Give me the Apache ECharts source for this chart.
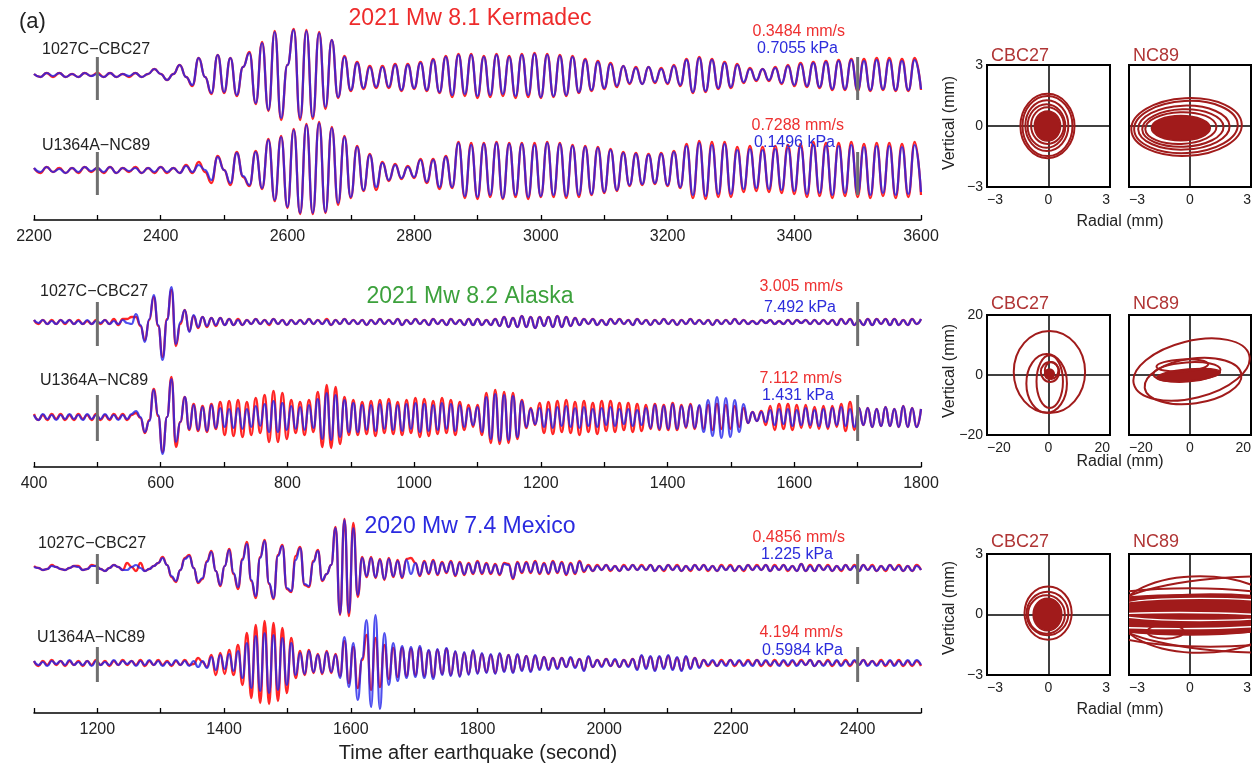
<!DOCTYPE html>
<html>
<head>
<meta charset="utf-8">
<script src="https://cdn.jsdelivr.net/npm/echarts/dist/echarts.min.js"></script>
<style>
html, body { margin: 0; padding: 0; background: #ffffff; }
#chart { width: 1258px; height: 768px; }
</style>
</head>
<body>
<div id="chart"></div>
<script>
// ---------------------------------------------------------------------------
// Sampled seismogram traces (scaled amplitude), red = velocity, blue = pressure.
// Each trace is sampled on a regular time grid: start + index * step (seconds).
// ---------------------------------------------------------------------------

// 2021 Mw 8.1 Kermadec, 2200-3600 s, 10 s sampling
const kermadecStart = 2200;
const kermadecStep = 10;
const kermadecMarkers = [2300, 3500];

const kermadecCbcBlue = [
  1,-2,2,-1,2,-2,1,-2,2,-1,
  1,-2,2,-2,1,-1,2,-2,1,6,
  1,-5,1,10,-2,-10,17,-2,-18,20,
  -17,17,-20,8,22,-28,32,-35,43,-43,
  10,45,-43,44,-42,42,-32,35,-22,18,
  -15,12,-13,8,-12,8,-12,10,-15,10,
  -13,12,-15,15,-17,18,-20,20,-19,20,
  -21,18,-20,20,-19,18,-21,20,-20,21,
  -22,20,-21,19,-20,18,-17,15,-15,13,
  -13,11,-11,9,-8,7,-9,8,-7,6,
  -8,9,-10,15,-17,17,-16,15,-13,12,
  -12,10,-7,6,-5,6,-5,7,-8,9,
  -10,11,-11,12,-12,13,-14,14,-14,15,
  -15,14,-15,15,-14,15,-15,14,-15,15,-14
];
const kermadecCbcRed = [
  1,-2,2,-2,2,-2,1,-2,2,-1,
  2,-2,2,-2,1,-2,2,-2,1,6,
  1,-5,1,10,-2,-11,17,-2,-19,20,
  -18,17,-21,8,23,-29,33,-36,44,-45,
  10,46,-45,45,-44,43,-34,35,-23,19,
  -16,13,-14,9,-13,9,-13,11,-16,11,
  -14,13,-16,16,-18,19,-22,21,-21,21,
  -23,19,-22,21,-21,19,-23,21,-22,22,
  -23,21,-22,20,-21,19,-18,16,-16,14,
  -14,12,-12,9,-9,8,-9,8,-8,7,
  -9,10,-11,16,-18,18,-17,16,-14,13,
  -13,11,-8,7,-6,6,-6,8,-9,10,
  -11,12,-12,13,-13,14,-15,15,-15,16,
  -16,16,-16,17,-15,17,-16,16,-16,17,-15
];
const kermadecNcBlue = [
  2,-2,3,-2,1,-3,2,-2,3,-1,
  2,-2,3,-3,2,-1,2,-3,2,-2,
  3,-2,2,-3,4,-2,5,0,-10,13,
  0,-13,17,-6,-15,18,-18,30,-30,33,
  -37,40,-43,45,-43,47,-42,42,-33,33,
  -27,23,-20,15,-17,7,-10,5,-8,3,
  -7,10,-12,10,-17,13,-17,27,-26,25,
  -27,26,-25,27,-28,26,-25,26,-27,25,
  -26,27,-25,26,-26,24,-25,23,-24,22,
  -22,20,-20,17,-15,16,-14,15,-13,16,
  -15,18,-17,24,-25,27,-26,25,-24,26,
  -24,20,-19,21,-18,20,-19,21,-20,22,
  -21,23,-24,25,-23,24,-25,24,-23,25,
  -24,23,-25,24,-23,24,-25,23,-24,25,-22
];
const kermadecNcRed = [
  2,-3,3,-2,2,-3,2,-3,3,-2,
  2,-3,3,-3,2,-2,3,-3,2,-3,
  3,-3,2,-3,5,-3,8,-2,-13,14,
  0,-15,18,-7,-16,19,-19,31,-31,34,
  -38,41,-44,46,-44,48,-43,43,-35,34,
  -28,24,-21,16,-20,8,-11,6,-9,4,
  -8,11,-13,11,-19,14,-18,28,-28,27,
  -29,27,-27,28,-29,27,-27,27,-29,27,
  -27,28,-27,27,-28,25,-27,24,-25,23,
  -23,21,-21,18,-16,17,-15,16,-14,17,
  -16,19,-18,26,-28,29,-29,28,-27,28,
  -27,23,-22,24,-21,23,-22,24,-23,25,
  -24,26,-27,28,-26,27,-28,27,-26,28,
  -27,26,-28,27,-26,27,-28,26,-27,28,-25
];

// 2021 Mw 8.2 Alaska, 400-1800 s, 7 s sampling
const alaskaStart = 400;
const alaskaStep = 7;
const alaskaMarkers = [500, 1700];

const alaskaCbcBlue = [
  2,-1,2,-2,1,-2,2,-1,2,-2,
  1,-2,2,-2,1,-1,2,-2,1,-2,
  2,-1,-2,8,-3,-20,3,27,-3,-38,
  2,35,-22,0,12,-10,7,-5,5,-4,
  4,-3,4,-3,3,-3,2,-3,2,-2,
  3,-2,2,-2,3,-2,2,-3,2,-2,
  2,-2,3,-2,2,-2,2,-3,2,-2,
  3,-2,2,-2,2,-3,2,-2,3,-2,
  2,-2,3,-3,2,-2,3,-2,2,-3,
  3,-2,2,-3,3,-2,2,-3,3,-3,
  3,-3,2,-3,3,-4,5,-5,4,-5,
  6,-5,5,-6,5,-4,5,-5,6,-5,
  5,-4,4,-3,3,-2,3,-3,2,-3,
  3,-2,3,-2,2,-3,3,-2,2,-3,
  2,-2,3,-2,2,-3,2,-2,3,-2,
  2,-2,2,-3,2,-2,2,-2,3,-2,
  2,-2,1,-2,2,-1,2,-2,1,-2,
  2,-2,2,-1,2,-2,2,-2,2,-2,
  2,-3,3,-2,3,-3,2,-3,3,-3,
  3,-2,3,-3,3,-3,2,-3,3,-2,
  3
];
const alaskaCbcRed = [
  2,-2,2,-2,2,-2,2,-2,2,-2,
  2,-2,1,-2,2,-2,2,-2,3,-3,
  3,3,5,5,-4,-18,2,25,-4,-35,
  3,32,-24,-2,12,-9,6,-6,5,-5,
  4,-4,4,-3,3,-3,3,-3,2,-2,
  3,-2,2,-3,3,-2,2,-3,2,-2,
  2,-2,3,-2,2,-2,3,-3,2,-2,
  3,-2,2,-2,2,-3,2,-2,3,-2,
  2,-2,3,-3,2,-2,3,-2,2,-3,
  3,-2,2,-3,3,-2,2,-3,3,-3,
  3,-3,2,-3,3,-4,5,-5,4,-5,
  6,-5,5,-6,5,-4,5,-5,6,-5,
  5,-4,4,-3,3,-2,3,-3,2,-3,
  3,-2,3,-2,2,-3,3,-2,2,-3,
  2,-2,3,-2,2,-3,2,-2,3,-2,
  2,-2,2,-3,2,-2,2,-2,3,-2,
  2,-2,1,-2,2,-1,2,-2,1,-2,
  2,-2,2,-1,2,-2,2,-2,2,-2,
  2,-3,3,-2,3,-3,2,-3,3,-3,
  3,-2,3,-3,3,-3,2,-3,3,-2,
  3
];
const alaskaNcBlue = [
  2,-3,3,-2,2,-3,2,-2,3,-2,
  2,-3,3,-2,2,-2,3,-2,2,-3,
  2,-2,3,6,0,-15,-4,27,2,-37,
  0,38,-25,-5,20,-12,12,-13,10,-14,
  12,-11,9,-10,8,-11,9,-12,8,-10,
  11,-9,13,-15,16,-15,14,-13,11,-12,
  10,-13,12,-11,18,-22,24,-23,22,-20,
  17,-15,14,-15,12,-13,12,-14,13,-12,
  14,-13,12,-14,13,-12,14,-15,13,-14,
  12,-13,14,-12,13,-14,12,-10,9,-8,
  10,-15,20,-22,23,-24,22,-23,21,-20,
  16,-10,8,-7,9,-10,8,-11,10,-9,
  11,-10,9,-11,10,-9,8,-10,9,-8,
  10,-9,8,-7,8,-9,7,-8,9,-11,
  12,-12,11,-12,13,-12,11,-10,12,-11,
  12,-15,17,-19,20,-21,19,-20,17,-15,
  13,-6,5,-4,5,-5,7,-8,8,-7,
  8,-9,7,-8,9,-8,7,-9,8,-10,
  9,-8,10,-9,8,-10,9,-8,9,-10,
  8,-9,10,-9,8,-10,11,-10,9,-10,
  8
];
const alaskaNcRed = [
  3,-3,2,-3,3,-2,3,-3,2,-3,
  3,-2,2,-3,3,-3,2,-3,3,-2,
  3,-3,2,4,-1,-16,-3,28,1,-35,
  0,40,-30,-5,20,-13,13,-14,11,-15,
  13,-12,15,-18,16,-19,17,-20,15,-18,
  19,-16,22,-25,26,-25,24,-22,17,-16,
  15,-18,17,-15,25,-30,32,-31,30,-27,
  20,-18,17,-18,15,-17,16,-19,17,-16,
  18,-17,15,-18,17,-16,19,-20,18,-19,
  16,-17,19,-16,17,-18,15,-13,12,-10,
  12,-18,24,-26,27,-27,25,-26,24,-22,
  17,-11,9,-8,14,-16,15,-17,16,-15,
  17,-16,15,-18,16,-15,14,-17,16,-14,
  16,-15,14,-13,14,-15,13,-14,12,-12,
  13,-13,12,-13,14,-13,12,-11,13,-12,
  11,-12,12,-13,13,-12,12,-12,11,-10,
  9,-6,5,-4,6,-8,11,-13,13,-12,
  13,-13,12,-11,12,-11,10,-12,11,-12,
  11,-10,13,-14,15,-13,9,-8,9,-10,
  8,-9,10,-9,8,-10,11,-10,9,-10,
  8
];

// 2020 Mw 7.4 Mexico, 1100-2500 s, 7 s sampling
const mexicoStart = 1100;
const mexicoStep = 7;
const mexicoMarkers = [1200, 2400];

const mexicoCbcBlue = [
  1,0,-2,-1,2,1,-1,-2,0,2,
  1,-2,-1,2,2,-1,-3,0,3,1,
  -2,-2,1,3,0,-3,-1,2,5,10,
  3,-8,-13,-2,9,12,0,-14,-10,6,
  16,-3,-17,2,18,-5,-19,8,24,-12,
  -28,10,27,-15,-30,12,22,-20,-23,8,
  20,-16,-18,6,17,-12,-6,3,40,-46,
  48,-45,40,-27,10,-8,10,-9,8,-11,
  9,-8,7,-9,8,-6,5,-7,6,-5,
  7,-6,5,-4,6,-7,5,-6,4,-5,
  6,-5,4,-5,3,-6,4,3,-10,5,
  -4,5,-4,6,-5,4,-5,6,-4,5,
  -6,4,-5,6,-3,2,-3,2,-2,3,
  -2,2,-3,2,-2,3,-2,2,-2,3,
  -3,2,-2,3,-2,2,-3,2,-2,3,
  -2,3,-2,2,-3,2,-2,2,-3,2,
  -2,3,-2,2,-2,3,-3,2,-2,3,
  -2,2,-3,4,-3,2,-3,3,-2,2,
  -3,2,-2,3,-2,2,-3,3,-2,2,
  -3,2,-2,3,-2,2,-3,2,-3,2,
  -2
];
const mexicoCbcRed = [
  2,0,-2,-1,3,1,-1,-2,0,2,
  2,-2,-1,3,2,-1,-3,0,3,1,
  -2,5,1,-3,5,-3,-1,2,5,11,
  3,-9,-14,-2,10,13,0,-15,-11,7,
  17,-3,-18,2,19,-6,-21,9,26,-13,
  -30,11,28,-16,-31,13,23,-21,-24,12,
  21,-17,-19,7,18,-13,-6,3,41,-47,
  49,-48,45,-29,11,-9,11,-10,9,-12,
  10,-9,8,-10,9,10,5,-8,7,-6,
  8,-7,6,-5,7,-8,6,-7,5,-6,
  7,-6,5,-6,4,-7,5,4,-11,6,
  -5,6,-5,7,-6,5,-6,7,-5,6,
  -7,5,-6,7,-4,3,-3,3,-2,3,
  -3,2,-3,3,-2,3,-2,3,-2,3,
  -3,2,-3,3,-2,3,-3,2,-3,3,
  -2,3,-3,2,-3,3,-2,3,-3,2,
  -3,3,-2,3,-2,3,-3,3,-2,3,
  -3,2,-3,4,-3,3,-3,3,-2,3,
  -3,2,-3,3,-2,3,-3,3,-2,3,
  -3,2,-3,3,-2,3,-3,2,-3,3,
  -2
];
const mexicoNcBlue = [
  2,-2,1,-3,2,-1,2,-2,3,-2,
  1,-2,2,-3,2,-2,1,-2,3,-2,
  2,-1,2,-3,2,-2,3,-2,2,-3,
  1,-2,3,-2,2,-3,2,-4,2,-5,
  6,-7,8,-6,9,-8,12,-15,20,-25,
  27,-28,30,-30,28,-27,25,-22,20,-12,
  10,-11,12,-9,8,-10,11,-9,8,-15,
  26,-24,20,-37,5,43,-44,48,-46,30,
  -22,20,-18,17,-15,16,-14,17,-15,13,
  -16,14,-12,15,-13,12,-14,11,-12,13,
  -11,10,-10,9,-11,10,-9,8,-10,9,
  -8,7,-9,8,-7,6,-7,5,-6,5,
  -4,6,-5,4,-8,7,-4,3,-4,4,
  -3,4,-4,3,-4,4,-7,8,-6,7,
  -8,7,-6,8,-7,6,-8,7,-6,5,
  -5,3,-2,3,-3,2,-3,3,-2,3,
  -3,2,-3,3,-2,3,-2,2,-3,3,
  -2,3,-3,2,-2,3,-3,2,-3,2,
  -2,3,-3,2,-2,3,-2,3,-3,2,
  -3,2,-2,3,-3,2,-2,3,-2,3,
  -2
];
const mexicoNcRed = [
  2,-3,2,-2,3,-2,2,-3,2,-2,
  2,-3,2,-2,3,-2,2,-3,2,-2,
  3,-2,2,-2,3,-3,2,-2,3,-2,
  2,-3,2,-2,3,-2,-1,5,1,-4,
  8,-12,10,-11,13,-12,18,-22,30,-35,
  38,-40,42,-41,40,-38,35,-30,25,-15,
  12,-12,13,-10,9,-11,12,-10,9,-13,
  22,-20,16,-25,3,28,-27,25,-24,18,
  -16,15,-14,15,-13,14,-12,15,-13,12,
  -14,13,-11,14,-12,11,-13,10,-11,12,
  -10,9,-9,8,-10,9,-8,8,-9,8,
  -7,7,-8,7,-6,6,-6,5,-5,5,
  -4,5,-4,4,-7,6,-4,3,-3,4,
  -3,3,-4,3,-3,4,-6,7,-5,6,
  -7,6,-5,7,-6,5,-7,6,-5,5,
  -4,3,-3,2,-3,3,-2,3,-3,2,
  -2,3,-2,3,-3,2,-3,3,-2,2,
  -3,2,-2,3,-2,3,-3,2,-2,3,
  -3,2,-2,3,-3,2,-2,3,-2,2,
  -2,3,-3,2,-2,3,-3,2,-3,2,
  -3
];

// Text content
const eventTitles = ['2021 Mw 8.1 Kermadec', '2021 Mw 8.2 Alaska', '2020 Mw 7.4 Mexico'];
const stationPairs = ['1027C\u2212CBC27', 'U1364A\u2212NC89'];
const peakVelocity = [['0.3484 mm/s', '0.7288 mm/s'], ['3.005 mm/s', '7.112 mm/s'], ['0.4856 mm/s', '4.194 mm/s']];
const peakPressure = [['0.7055 kPa', '0.1496 kPa'], ['7.492 kPa', '1.431 kPa'], ['1.225 kPa', '0.5984 kPa']];
const particleStations = ['CBC27', 'NC89'];

// Particle motion loops, [radial centre, vertical centre, radial half-width, vertical half-height, tilt deg] (mm)
const kermadecCbcLoops = [[-0.05, 0.0, 1.32, 1.58, 0], [-0.05, 0.0, 1.22, 1.48, 0], [-0.08, 0.02, 1.05, 1.25, 0], [-0.1, 0.0, 0.92, 1.07, 0], [-0.05, 0.02, 0.8, 0.9, 0]];
const kermadecCbcCore = [[-0.05, 0.0, 0.64, 0.74, 0]];
const kermadecNcLoops = [[-0.17, -0.05, 2.72, 1.42, 3], [-0.2, -0.05, 2.55, 1.28, 3], [-0.3, -0.08, 2.25, 1.08, 2], [-0.35, -0.1, 2.0, 0.92, 2], [-0.45, -0.1, 1.75, 0.78, 2]];
const kermadecNcCore = [[-0.45, -0.1, 1.45, 0.62, 0]];
const alaskaCbcLoops = [[0.3, 1.0, 11.6, 13.7, 0], [-0.6, -2.8, 6.6, 9.8, 0], [0.4, -2.2, 4.3, 8.8, 0], [0.5, 1.0, 3.0, 3.3, 0], [1.0, 1.5, 2.2, 2.8, 0]];
const alaskaCbcCore = [[0.3, 0.3, 1.6, 1.7, 0]];
const alaskaNcLoops = [[0.5, 1.8, 19.5, 9.5, 14], [1.0, -2.0, 16.0, 7.5, 8], [-2.5, 3.2, 8.5, 2.0, 3], [-1.0, 1.0, 11.0, 3.2, 4]];
const alaskaNcCore = [[-0.5, 0.0, 10.5, 2.0, 5]];
const mexicoCbcLoops = [[-0.02, 0.07, 1.15, 1.32, 0], [-0.05, 0.05, 1.02, 1.08, 0], [-0.1, 0.0, 0.9, 0.95, 0]];
const mexicoCbcCore = [[-0.05, 0.0, 0.7, 0.8, 0]];
const mexicoNcLoops = [[4.0, 0.0, 8.0, 1.9, 0], [0.5, 0.0, 4.0, 1.9, 0], [0.0, 0.15, 6.0, 1.15, 0], [1.0, -0.3, 6.0, 1.3, 0], [-1.2, -0.85, 0.9, 0.35, 0]];
const mexicoNcCore = [[0.0, 0.0, 6.5, 0.98, 0]];
const mexicoNcGaps = [[0.5, 0.25, 5.0, 0.55, 0], [-0.5, -0.3, 5.5, 0.4, 0]];

// ---------------------------------------------------------------------------
// Styling and layout
// ---------------------------------------------------------------------------
const FONT = '"Liberation Sans", Arial, Helvetica, sans-serif';
const RED = '#ff2525';
const BLUE = '#2222ea';
const GREY = '#6f6f6f';
const LOOP = '#a11b1b';
const LOOP_TEXT = '#b03535';
const INK = '#222222';
const TITLE_COLORS = ['#ee2b2b', '#3ca13c', '#2a2ae0'];

const TOP_BASE = 145;     // trace baseline heights inside each 200-unit panel
const BOTTOM_BASE = 50;

const waveformPanels = [
  { axisY: 220, min: 2200, max: 3600, start: kermadecStart, step: kermadecStep, markers: kermadecMarkers,
    top: [kermadecCbcRed, kermadecCbcBlue], bottom: [kermadecNcRed, kermadecNcBlue], markerSpan: [[18, 25], [18, 25]],
    titleY: 19, stationY: [50, 146], stationX: [42, 42], velY: [32, 126], presY: [49, 143], velX: [845, 844], presX: [838, 835] },
  { axisY: 467, min: 400, max: 1800, start: alaskaStart, step: alaskaStep, markers: alaskaMarkers,
    top: [alaskaCbcRed, alaskaCbcBlue], bottom: [alaskaNcRed, alaskaNcBlue], markerSpan: [[20, 24], [22, 24]],
    titleY: 297, stationY: [292, 381], stationX: [40, 40], velY: [287, 379], presY: [308, 396], velX: [843, 842], presX: [836, 834] },
  { axisY: 713, min: 1100, max: 2500, start: mexicoStart, step: mexicoStep, markers: mexicoMarkers,
    top: [mexicoCbcRed, mexicoCbcBlue], bottom: [mexicoNcRed, mexicoNcBlue], markerSpan: [[14, 16], [16, 19]],
    titleY: 527, stationY: [544, 638], stationX: [38, 37], velY: [538, 633], presY: [555, 651], velX: [845, 843], presX: [833, 843] }
];

const particleRows = [
  { top: 65, height: 122, limit: 3, titleY: 56, radialY: 222, verticalY: 123,
    plots: [{ loops: kermadecCbcLoops, core: kermadecCbcCore, gaps: [] }, { loops: kermadecNcLoops, core: kermadecNcCore, gaps: [] }] },
  { top: 315, height: 120, limit: 20, titleY: 304, radialY: 462, verticalY: 371,
    plots: [{ loops: alaskaCbcLoops, core: alaskaCbcCore, gaps: [] }, { loops: alaskaNcLoops, core: alaskaNcCore, gaps: [] }] },
  { top: 554, height: 121, limit: 3, titleY: 542, radialY: 710, verticalY: 608,
    plots: [{ loops: mexicoCbcLoops, core: mexicoCbcCore, gaps: [] }, { loops: mexicoNcLoops, core: mexicoNcCore, gaps: mexicoNcGaps }] }
];
const PARTICLE_X = [987, 1129];
const PARTICLE_W = [123, 122];

// ---------------------------------------------------------------------------
// Build option
// ---------------------------------------------------------------------------
const grids = [], xAxes = [], yAxes = [], series = [], texts = [];

function sampled(values, start, step, base) {
  return values.map(function (v, i) { return [start + i * step, base + v]; });
}

function text(str, x, y, font, fill, align, rotation) {
  texts.push({
    type: 'text', x: x, y: y, rotation: rotation || 0, silent: true, z: 50,
    style: { text: str, font: font, fill: fill, align: align || 'left', verticalAlign: 'middle' }
  });
}

waveformPanels.forEach(function (p, k) {
  const g = grids.length;
  grids.push({ left: 34, width: 887, top: p.axisY - 200, height: 200, containLabel: false, outerBoundsMode: 'none' });
  xAxes.push({
    type: 'value', gridIndex: g, min: p.min, max: p.max, interval: 100,
    axisLine: { show: true, onZero: false, lineStyle: { color: '#000', width: 1.5 } },
    axisTick: { show: true, inside: true, length: 5, lineStyle: { color: '#000', width: 1.3 } },
    axisLabel: { formatter: function (v) { return v % 200 === 0 ? String(v) : ''; },
                 color: INK, fontSize: 16, fontFamily: FONT, margin: 9, hideOverlap: false },
    splitLine: { show: false }
  });
  yAxes.push({ type: 'value', gridIndex: g, min: 0, max: 200, show: false });

  [[p.top, TOP_BASE, 0], [p.bottom, BOTTOM_BASE, 1]].forEach(function (row) {
    const pair = row[0], base = row[1], span = p.markerSpan[row[2]];
    series.push({
      type: 'line', xAxisIndex: g, yAxisIndex: g, data: sampled(pair[0], p.start, p.step, base),
      showSymbol: false, smooth: 0.5, smoothMonotone: 'x', silent: true, z: 2,
      lineStyle: { color: RED, width: 2.3 }
    });
    series.push({
      type: 'line', xAxisIndex: g, yAxisIndex: g, data: sampled(pair[1], p.start, p.step, base),
      showSymbol: false, smooth: 0.5, smoothMonotone: 'x', silent: true, z: 3,
      lineStyle: { color: BLUE, width: 2.2, opacity: 0.8 }
    });
    series.push({
      type: 'custom', xAxisIndex: g, yAxisIndex: g, silent: true, z: 6,
      data: p.markers.map(function (t) { return [t]; }), encode: { x: 0 },
      renderItem: function (params, api) {
        const c = api.coord([api.value(0), base]);
        return { type: 'line', shape: { x1: c[0], y1: c[1] - span[0], x2: c[0], y2: c[1] + span[1] },
                 style: { stroke: GREY, lineWidth: 3 } };
      }
    });
  });

  text(eventTitles[k], 470, p.titleY, '23px ' + FONT, TITLE_COLORS[k], 'center');
  for (let r = 0; r < 2; r++) {
    text(stationPairs[r], p.stationX[r], p.stationY[r], '16px ' + FONT, INK, 'left');
    text(peakVelocity[k][r], p.velX[r], p.velY[r], '16px ' + FONT, '#ee3030', 'right');
    text(peakPressure[k][r], p.presX[r], p.presY[r], '16px ' + FONT, '#2c2cdc', 'right');
  }
});

function ellipseRenderer(fill, stroke, width) {
  return function (params, api) {
    const c = api.coord([api.value(0), api.value(1)]);
    const s = api.size([api.value(2), api.value(3)]);
    return {
      type: 'ellipse',
      shape: { cx: c[0], cy: c[1], rx: Math.abs(s[0]), ry: Math.abs(s[1]) },
      originX: c[0], originY: c[1],
      rotation: api.value(4) * Math.PI / 180,
      style: { fill: fill, stroke: stroke, lineWidth: width }
    };
  };
}

const minusSign = function (v) { return String(v).replace('-', '\u2212'); };

particleRows.forEach(function (row) {
  row.plots.forEach(function (plot, j) {
    const g = grids.length;
    grids.push({ left: PARTICLE_X[j], width: PARTICLE_W[j], top: row.top, height: row.height,
                 show: true, borderColor: '#000', borderWidth: 2, backgroundColor: 'transparent',
                 containLabel: false, outerBoundsMode: 'none' });
    xAxes.push({
      type: 'value', gridIndex: g, min: -row.limit, max: row.limit, interval: row.limit,
      axisLine: { show: false }, axisTick: { show: false },
      splitLine: { show: true, lineStyle: { color: '#000', width: 1.5 } },
      axisLabel: { formatter: minusSign, color: INK, fontSize: 14, fontFamily: FONT, margin: 6,
                   alignMinLabel: 'left', alignMaxLabel: 'right', hideOverlap: false }
    });
    yAxes.push({
      type: 'value', gridIndex: g, min: -row.limit, max: row.limit, interval: row.limit,
      axisLine: { show: false }, axisTick: { show: false },
      splitLine: { show: true, lineStyle: { color: '#000', width: 1.5 } },
      axisLabel: { show: j === 0, formatter: minusSign, color: INK, fontSize: 14, fontFamily: FONT, margin: 4, hideOverlap: false }
    });
    series.push({ type: 'custom', xAxisIndex: g, yAxisIndex: g, silent: true, clip: true, z: 3,
                  data: plot.core, encode: { x: 0, y: 1 }, renderItem: ellipseRenderer(LOOP, LOOP, 1.5) });
    if (plot.gaps.length) {
      series.push({ type: 'custom', xAxisIndex: g, yAxisIndex: g, silent: true, clip: true, z: 4,
                    data: plot.gaps, encode: { x: 0, y: 1 }, renderItem: ellipseRenderer('none', '#ffffff', 1.4) });
    }
    series.push({ type: 'custom', xAxisIndex: g, yAxisIndex: g, silent: true, clip: true, z: 5,
                  data: plot.loops, encode: { x: 0, y: 1 }, renderItem: ellipseRenderer('none', LOOP, 2) });
    text(particleStations[j], PARTICLE_X[j] + 4, row.titleY, '18px ' + FONT, LOOP_TEXT, 'left');
  });
  text('Radial (mm)', 1120, row.radialY, '16px ' + FONT, INK, 'center');
  text('Vertical (mm)', 950, row.verticalY, '16px ' + FONT, INK, 'center', Math.PI / 2);
});

text('(a)', 19, 22, '22px ' + FONT, INK, 'left');
text('Time after earthquake (second)', 478, 753, '20px ' + FONT, INK, 'center');

const chart = echarts.init(document.getElementById('chart'), null, { renderer: 'canvas' });
chart.setOption({
  animation: false,
  backgroundColor: '#ffffff',
  grid: grids,
  xAxis: xAxes,
  yAxis: yAxes,
  series: series,
  graphic: { elements: texts }
});
</script>
</body>
</html>
